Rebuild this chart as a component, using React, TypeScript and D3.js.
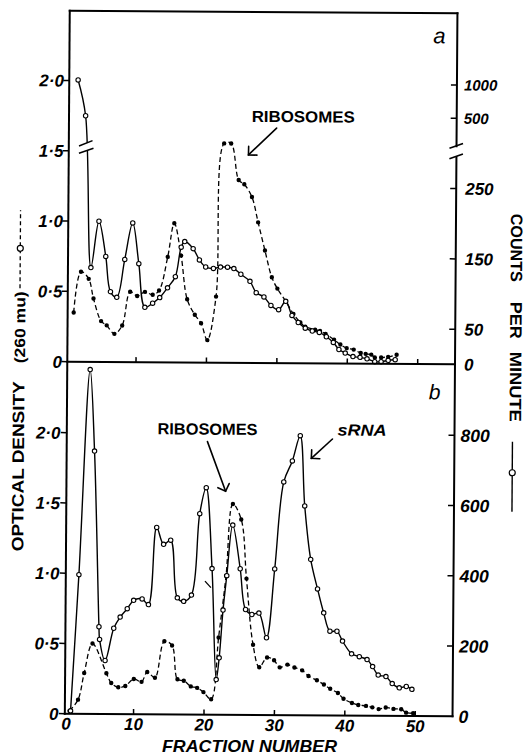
import React from "react";
import * as d3 from "d3";

// ---------------- data ----------------
const fractionTicks = [10, 20, 30, 40, 50];
const fractionLabels = [0, 10, 20, 30, 40, 50];
const odTicks = [0, 0.5, 1.0, 1.5, 2.0];
const cpmTicksTopLow = [0, 50, 150, 250];
const cpmTicksTopHigh = [500, 1000];
const cpmTicksBottom = [0, 200, 400, 600, 800];

// panel a : optical density (dashed, filled dots)
const topOdFraction = [1.1, 2.1, 3.2, 3.9, 5, 5.8, 6.9, 8, 9.1, 10.1, 11.2, 12.3, 13.2, 14.4, 15.3, 16.3, 17.2, 18.3, 19.2, 20.1, 21.3, 22.3, 23.3, 24.4, 25.2, 26.3, 27.2, 28.2, 29.2, 30, 31.2, 32.3, 33.3, 34, 35.4, 36.1, 36.9, 38.1, 39, 39.9, 40.9, 41.9, 42.6, 43.4, 43.9, 44.8, 45.8, 47];
const topOdValue = [0.35, 0.64, 0.59, 0.45, 0.29, 0.26, 0.2, 0.26, 0.5, 0.47, 0.5, 0.48, 0.51, 0.75, 0.99, 0.76, 0.45, 0.34, 0.28, 0.16, 0.47, 1.56, 1.56, 1.3, 1.27, 1.18, 1.0, 0.8, 0.61, 0.53, 0.44, 0.35, 0.29, 0.26, 0.24, 0.23, 0.21, 0.17, 0.135, 0.11, 0.1, 0.076, 0.07, 0.065, 0.045, 0.045, 0.05, 0.065];
// panel a : counts per minute (solid, open circles)
const topCpmFraction = [1.5, 2.6, 3.5, 4.6, 5.6, 6.3, 7.2, 8.3, 9.4, 10.3, 11.2, 12.3, 13.3, 14.4, 15.5, 16.3, 16.8, 18, 18.9, 19.8, 20.9, 21.9, 22.9, 23.8, 24.8, 26.1, 27, 28.1, 29.1, 30.2, 31.2, 32.1, 33, 34, 35, 36, 37, 38, 38.8, 39.7, 40.8, 41.8, 42.8, 43.9, 44.8, 45.8, 46.8];
const topCpmValue = [1050, 500, 134, 200, 150, 100, 92, 146, 198, 140, 78, 84, 92, 106, 122, 164, 172, 162, 146, 136, 134, 136, 136, 134, 126, 116, 100, 94, 82, 76, 88, 68, 58, 50, 46, 44, 38, 30, 20, 15, 10, 9, 7, 3, 3, 5, 6];
// panel b : counts per minute (solid, open circles)
const botCpmFraction = [1.05, 2.1, 3.5, 4.2, 5.0, 5.1, 5.9, 7.1, 8, 9, 9.9, 11.1, 12, 13.1, 14.1, 15.1, 16.1, 17, 18.1, 19.2, 20.1, 21, 21.7, 22.1, 22.6, 23.1, 23.9, 25, 25.8, 26.7, 27.7, 28.8, 29.9, 31.1, 32.3, 33.4, 34.1, 35, 36, 36.9, 37.8, 38.8, 39.6, 40.9, 42, 43.1, 43.9, 44.7, 45.8, 46.7, 47.7, 48.7, 49.5];
const botCpmValue = [8, 396, 980, 748, 248, 212, 152, 244, 276, 300, 324, 328, 312, 532, 484, 496, 332, 322, 340, 572, 646, 416, 100, 162, 298, 396, 540, 416, 300, 286, 290, 220, 416, 664, 724, 796, 596, 444, 360, 292, 240, 240, 212, 176, 168, 160, 140, 116, 112, 92, 80, 84, 76];
// panel b : optical density (dashed, filled dots)
const botOdFraction = [0.9, 2.1, 2.95, 4.1, 6.1, 6.8, 7.8, 8.8, 10, 11.1, 11.9, 13, 14.3, 15.4, 16.2, 17.1, 18.1, 19, 19.9, 21, 22, 23, 23.9, 25.1, 25.9, 26.9, 27.8, 28.9, 29.9, 30.7, 31.8, 32.8, 33.9, 34.8, 36, 37, 37.9, 39, 39.8, 41, 41.9, 43, 43.9, 44.8, 45.8, 46.9, 48, 48.7, 49.7];
const botOdValue = [0.02, 0.1, 0.29, 0.5, 0.29, 0.22, 0.19, 0.2, 0.25, 0.23, 0.3, 0.26, 0.52, 0.49, 0.25, 0.24, 0.2, 0.19, 0.16, 0.11, 0.55, 0.99, 1.5, 1.39, 0.97, 0.5, 0.34, 0.41, 0.39, 0.34, 0.36, 0.34, 0.32, 0.28, 0.25, 0.22, 0.19, 0.16, 0.12, 0.09, 0.076, 0.07, 0.06, 0.048, 0.06, 0.05, 0.048, 0.024, 0.02];

// ---------------- layout ----------------
const W = 525;
const H = 756;
const L = 67.3;
const R = 455;
const T = 12;
const M = 363;
const B = 715;
const FONT = "'Liberation Sans', Arial, sans-serif";

const fmtOD = (v: number) => (v === 0 ? "0" : v.toFixed(1).replace(".", "\u00B7"));

function Arrow({ x1, y1, x2, y2 }: { x1: number; y1: number; x2: number; y2: number }) {
  const a = Math.atan2(y1 - y2, x1 - x2);
  const w = 8.5;
  const p1 = [x2 + w * Math.cos(a + Math.PI / 4), y2 + w * Math.sin(a + Math.PI / 4)];
  const p2 = [x2 + w * Math.cos(a - Math.PI / 4), y2 + w * Math.sin(a - Math.PI / 4)];
  return (
    <g stroke="#000" strokeWidth={1.6} fill="none" strokeLinecap="round">
      <line x1={x1} y1={y1} x2={x2} y2={y2} />
      <polyline points={`${p1[0]},${p1[1]} ${x2},${y2} ${p2[0]},${p2[1]}`} />
    </g>
  );
}

export default function App() {
  const x = d3.scaleLinear().domain([0, 50]).range([65.6, 417.7]);
  const yTopOd = d3.scaleLinear().domain([0, 1]).range([M, M - 140.6]);
  const yTopCpmLow = d3.scaleLinear().domain([0, 250]).range([M, M - 175.75]);
  const yTopCpmHigh = d3.scaleLog().domain([500, 1000]).range([117, 83.6]);
  const yTopCpm = (v: number) => (v <= 250 ? yTopCpmLow(v) : yTopCpmHigh(v));
  const yBotOd = d3.scaleLinear().domain([0, 2]).range([B, B - 281]);
  const yBotCpm = d3.scaleLinear().domain([0, 800]).range([B, B - 281]);

  const topOd = d3.zip(topOdFraction, topOdValue) as [number, number][];
  const topCpm = d3.zip(topCpmFraction, topCpmValue) as [number, number][];
  const botCpm = d3.zip(botCpmFraction, botCpmValue) as [number, number][];
  const botOd = d3.zip(botOdFraction, botOdValue) as [number, number][];

  const curve = d3.curveCatmullRom.alpha(0.5);
  const mk = (ys: (v: number) => number) =>
    d3.line<[number, number]>().x((d) => x(d[0])).y((d) => ys(d[1])).curve(curve);

  const dashed = { stroke: "#000", strokeWidth: 1.3, fill: "none", strokeDasharray: "5,3" };
  const solid = { stroke: "#000", strokeWidth: 1.4, fill: "none", strokeLinejoin: "round" as const };

  const numStyle = { fontFamily: FONT, fontWeight: 700, fontStyle: "italic" as const };

  return (
    <svg width={W} height={H} style={{ position: "absolute", left: 0, top: 0, background: "#fff" }}>
      <rect width={W} height={H} fill="#fff" />
      <g transform="rotate(0.4 262 362)">
        {/* ---------- panel a curves ---------- */}
        <path d={mk(yTopOd)(topOd) || ""} {...dashed} />
        <path d={mk(yTopCpm)(topCpm) || ""} {...solid} />
        {/* break on the solid curve */}
        <polygon points="77,147.6 92,141.3 92.5,149.4 77,155" fill="#fff" />
        <line x1={77.5} y1={147.3} x2={91} y2={141.8} stroke="#000" strokeWidth={1.5} />
        <line x1={77.5} y1={154.5} x2={92} y2={149.4} stroke="#000" strokeWidth={1.5} />
        {topOd.map((d, i) => (
          <circle key={"to" + i} cx={x(d[0])} cy={yTopOd(d[1])} r={2.2} fill="#000" />
        ))}
        {topCpm.map((d, i) => (
          <circle key={"tc" + i} cx={x(d[0])} cy={yTopCpm(d[1])} r={2.2} fill="#fff" stroke="#000" strokeWidth={1.1} />
        ))}

        {/* ---------- panel b curves ---------- */}
        <path d={mk(yBotOd)(botOd) || ""} {...dashed} />
        <path d={mk(yBotCpm)(botCpm) || ""} {...solid} />
        {botOd.map((d, i) => (
          <circle key={"bo" + i} cx={x(d[0])} cy={yBotOd(d[1])} r={2.2} fill="#000" />
        ))}
        {botCpm.map((d, i) => (
          <circle key={"bc" + i} cx={x(d[0])} cy={yBotCpm(d[1])} r={2.2} fill="#fff" stroke="#000" strokeWidth={1.1} />
        ))}
        <line x1={206.5} y1={581.5} x2={212.5} y2={588} stroke="#000" strokeWidth={1.3} />

        {/* ---------- frame ---------- */}
        <g stroke="#000" strokeWidth={2} fill="none" strokeLinecap="square">
          <line x1={L} y1={T} x2={R} y2={T} />
          <line x1={L} y1={T} x2={L} y2={B} />
          <line x1={R} y1={T} x2={R} y2={145} />
          <line x1={R} y1={156} x2={R} y2={B} />
          <line x1={L} y1={M} x2={R} y2={M} />
          <line x1={L} y1={B} x2={R} y2={B} />
        </g>
        {/* right axis break */}
        <line x1={448} y1={147} x2={461.5} y2={142} stroke="#000" strokeWidth={1.6} />
        <line x1={448} y1={157.5} x2={461.5} y2={152.5} stroke="#000" strokeWidth={1.6} />

        {/* x ticks */}
        {fractionTicks.map((f) => (
          <g key={"xt" + f} stroke="#000" strokeWidth={1.5}>
            <line x1={x(f)} y1={M} x2={x(f)} y2={M - 5} />
            <line x1={x(f)} y1={B} x2={x(f)} y2={B - 5} />
          </g>
        ))}
        {fractionLabels.map((f) => (
          <text key={"xl" + f} x={x(f) + (f === 0 ? 3 : 0)} y={731} textAnchor="middle" fontSize={17} {...numStyle}>
            {f}
          </text>
        ))}

        {/* left OD axis, panel a */}
        {odTicks.map((v) => (
          <g key={"lta" + v}>
            <line x1={L - 6} y1={yTopOd(v)} x2={L} y2={yTopOd(v)} stroke="#000" strokeWidth={1.5} />
            <text x={62} y={yTopOd(v)} dy="0.36em" textAnchor="end" fontSize={17} {...numStyle}>
              {fmtOD(v)}
            </text>
          </g>
        ))}
        {/* left OD axis, panel b */}
        {odTicks.map((v) => (
          <g key={"ltb" + v}>
            <line x1={L - 6} y1={yBotOd(v)} x2={L} y2={yBotOd(v)} stroke="#000" strokeWidth={1.5} />
            <text x={61} y={yBotOd(v)} dy="0.36em" textAnchor="end" fontSize={17} {...numStyle}>
              {fmtOD(v)}
            </text>
          </g>
        ))}

        {/* right cpm axis, panel a */}
        {cpmTicksTopLow.map((v) => (
          <g key={"rta" + v}>
            {v > 0 && <line x1={R - 6} y1={yTopCpmLow(v)} x2={R} y2={yTopCpmLow(v)} stroke="#000" strokeWidth={1.5} />}
            <text x={464} y={yTopCpmLow(v)} dy="0.36em" textAnchor="start" fontSize={17} {...numStyle}>
              {v}
            </text>
          </g>
        ))}
        {cpmTicksTopHigh.map((v) => (
          <g key={"rth" + v}>
            <line x1={R - 6} y1={yTopCpmHigh(v)} x2={R} y2={yTopCpmHigh(v)} stroke="#000" strokeWidth={1.5} />
            <text x={462} y={yTopCpmHigh(v)} dy="0.36em" textAnchor="start" fontSize={15} {...numStyle}>
              {v}
            </text>
          </g>
        ))}
        {/* right cpm axis, panel b */}
        {cpmTicksBottom.map((v) => (
          <g key={"rb" + v}>
            {v > 0 && <line x1={R - 6} y1={yBotCpm(v)} x2={R} y2={yBotCpm(v)} stroke="#000" strokeWidth={1.5} />}
            <text x={461} y={yBotCpm(v)} dy="0.36em" textAnchor="start" fontSize={17.5} {...numStyle}>
              {v}
            </text>
          </g>
        ))}

        {/* panel letters */}
        <text x={431} y={42} fontSize={22} fontStyle="italic" fontFamily={FONT}>a</text>
        <text x={429} y={398} fontSize={21} fontStyle="italic" fontFamily={FONT}>b</text>

        {/* annotations */}
        <text x={250} y={122} fontSize={16} fontWeight={700} fontFamily={FONT} textLength={103} lengthAdjust="spacingAndGlyphs">RIBOSOMES</text>
        <Arrow x1={275} y1={128} x2={247} y2={155} />
        <text x={158} y={435} fontSize={16} fontWeight={700} fontFamily={FONT} textLength={100} lengthAdjust="spacingAndGlyphs">RIBOSOMES</text>
        <Arrow x1={208} y1={442} x2={226.5} y2={491.5} />
        <text x={338} y={435} fontSize={16} fontWeight={700} fontStyle="italic" fontFamily={FONT} textLength={49} lengthAdjust="spacingAndGlyphs">sRNA</text>
        <Arrow x1={333} y1={438.5} x2={312} y2={458} />

        {/* left title */}
        <g fontFamily={FONT} fontWeight={700} fontSize={16.5}>
          <text transform="translate(24.5,553) rotate(-90)" textLength={170} lengthAdjust="spacingAndGlyphs">OPTICAL  DENSITY</text>
          <text transform="translate(25,365) rotate(-90)" fontSize={15} textLength={72} lengthAdjust="spacingAndGlyphs">(260 mu)</text>
        </g>
        <line x1={19.5} y1={290} x2={19.5} y2={212} stroke="#000" strokeWidth={1.3} strokeDasharray="4,3" />
        <circle cx={19.5} cy={250} r={3} fill="#fff" stroke="#000" strokeWidth={1.2} />

        {/* right title */}
        <g fontFamily={FONT} fontWeight={700} fontSize={16.5}>
          <text transform="translate(510,212) rotate(90)" textLength={68} lengthAdjust="spacingAndGlyphs">COUNTS</text>
          <text transform="translate(510,300) rotate(90)" textLength={37} lengthAdjust="spacingAndGlyphs">PER</text>
          <text transform="translate(510,350) rotate(90)" textLength={70} lengthAdjust="spacingAndGlyphs">MINUTE</text>
        </g>
        <line x1={513} y1={440} x2={513} y2={510} stroke="#000" strokeWidth={1.4} />
        <circle cx={513} cy={471} r={3} fill="#fff" stroke="#000" strokeWidth={1.2} />
      </g>

      {/* x-axis title (kept outside the tilt so it stays inside the page) */}
      <text x={162} y={752} fontSize={16.5} fontWeight={700} fontStyle="italic" fontFamily={FONT} textLength={175} lengthAdjust="spacingAndGlyphs">FRACTION  NUMBER</text>
    </svg>
  );
}
